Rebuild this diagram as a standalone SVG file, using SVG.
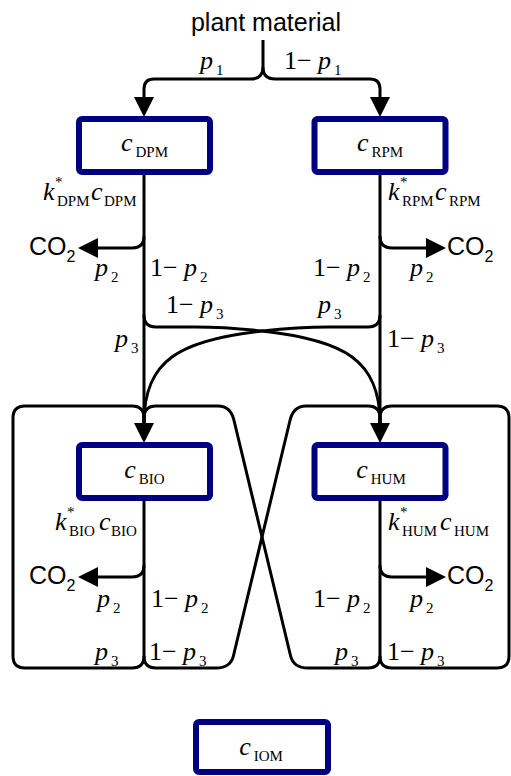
<svg xmlns="http://www.w3.org/2000/svg" width="511" height="776" viewBox="0 0 511 776">
<defs>
<style>
.ln{fill:none;stroke:#000;stroke-width:3}
.box{fill:#fff;stroke:#000080;stroke-width:6}
.sans{font-family:"Liberation Sans",Arial,sans-serif;font-size:25px;fill:#000}
.serif{font-family:"Liberation Serif","Times New Roman",serif;font-size:26px;fill:#000}
.it{font-style:italic}
.sub{font-size:15px;font-style:normal}
.sub2{font-size:16px}
</style>
<marker id="arr" markerUnits="userSpaceOnUse" markerWidth="20" markerHeight="20" refX="0" refY="10" orient="auto" viewBox="0 0 20 20">
<path d="M0,0 L20,10 L0,20 Z" fill="#000"/>
</marker>
</defs>
<rect width="511" height="776" fill="#fff"/>
<g id="connectors">
<path class="ln" d="M263,40 V67 Q263,79 251,79 H154 Q144,79 144,89 V97" marker-end="url(#arr)"/>
<path class="ln" d="M263,67 Q263,79 275,79 H370 Q380,79 380,89 V97" marker-end="url(#arr)"/>
<path class="ln" d="M144,172 V423" marker-end="url(#arr)"/>
<path class="ln" d="M144,236 Q144,248 132,248 H98" marker-end="url(#arr)"/>
<path class="ln" d="M144,315 Q144,327 156,327 H195 C215,327 235,328 262,331 C344,340 380,360 380,423"/>
<path class="ln" d="M380,172 V423" marker-end="url(#arr)"/>
<path class="ln" d="M380,236 Q380,248 392,248 H426" marker-end="url(#arr)"/>
<path class="ln" d="M380,315 Q380,327 368,327 H329 C309,327 289,328 262,331 C180,340 144,360 144,423"/>
<path class="ln" d="M144,498 V656"/>
<path class="ln" d="M144,565 Q144,577 132,577 H98" marker-end="url(#arr)"/>
<path class="ln" d="M144,656 Q144,668 132,668 H25 Q13,668 13,656 V418 Q13,406 25,406 H132 Q144,406 144,418 V423"/>
<path class="ln" d="M144,656 Q144,668 156,668 H216 Q230.5,668 233.4,656 L290.1,420 Q293.5,406 306,406 H368 Q380,406 380,418 V423"/>
<path class="ln" d="M380,498 V656"/>
<path class="ln" d="M380,565 Q380,577 392,577 H426" marker-end="url(#arr)"/>
<path class="ln" d="M380,656 Q380,668 368,668 H308 Q293.5,668 290.6,656 L233.9,420 Q230.5,406 218,406 H156 Q144,406 144,418 V423"/>
<path class="ln" d="M380,656 Q380,668 392,668 H497 Q509,668 509,656 V418 Q509,406 497,406 H392 Q380,406 380,418 V423"/>
</g>
<g id="source">
<text class="sans" x="266" y="31" text-anchor="middle">plant material</text>
</g>
<g id="node-dpm">
<rect class="box" x="79" y="119" width="131" height="53" rx="3"/>
<text class="serif" x="144.5" y="151" text-anchor="middle"><tspan class="it">c</tspan><tspan class="sub" dx="3" dy="6">DPM</tspan></text>
</g>
<g id="node-rpm">
<rect class="box" x="314.5" y="119" width="131" height="53" rx="3"/>
<text class="serif" x="380" y="151" text-anchor="middle"><tspan class="it">c</tspan><tspan class="sub" dx="3" dy="6">RPM</tspan></text>
</g>
<g id="node-bio">
<rect class="box" x="79" y="445" width="131" height="53" rx="3"/>
<text class="serif" x="144.5" y="478" text-anchor="middle"><tspan class="it">c</tspan><tspan class="sub" dx="3" dy="6">BIO</tspan></text>
</g>
<g id="node-hum">
<rect class="box" x="314.5" y="445" width="131" height="53" rx="3"/>
<text class="serif" x="381" y="478" text-anchor="middle"><tspan class="it">c</tspan><tspan class="sub" dx="3" dy="6">HUM</tspan></text>
</g>
<g id="node-iom">
<rect class="box" x="196" y="722" width="132" height="50" rx="3"/>
<text class="serif" x="261" y="755" text-anchor="middle"><tspan class="it">c</tspan><tspan class="sub" dx="3" dy="6">IOM</tspan></text>
</g>
<g id="labels">
<text class="serif" y="69"><tspan class="it" x="200">p</tspan><tspan class="sub" x="216" dy="6">1</tspan></text>
<text class="serif" y="69"><tspan x="284">1</tspan><tspan x="297">−</tspan><tspan class="it" x="318">p</tspan><tspan class="sub" x="334" dy="6">1</tspan></text>

<text class="serif" y="200"><tspan class="it" x="43">k</tspan><tspan class="sub" x="55" y="187">*</tspan><tspan class="sub" x="57" y="206">DPM</tspan><tspan class="it" x="91" y="200">c</tspan><tspan class="sub" x="104" y="206">DPM</tspan></text>
<text class="serif" y="200"><tspan class="it" x="388">k</tspan><tspan class="sub" x="400" y="187">*</tspan><tspan class="sub" x="402" y="206">RPM</tspan><tspan class="it" x="435" y="200">c</tspan><tspan class="sub" x="449" y="206">RPM</tspan></text>

<text class="sans" y="255"><tspan x="29">CO</tspan><tspan class="sub2" dy="7">2</tspan></text>
<text class="sans" y="255"><tspan x="447">CO</tspan><tspan class="sub2" dy="7">2</tspan></text>

<text class="serif" y="276"><tspan class="it" x="95">p</tspan><tspan class="sub" x="111" dy="6">2</tspan></text>
<text class="serif" y="276"><tspan x="150">1</tspan><tspan x="163">−</tspan><tspan class="it" x="184">p</tspan><tspan class="sub" x="200" dy="6">2</tspan></text>
<text class="serif" y="276"><tspan x="313">1</tspan><tspan x="326">−</tspan><tspan class="it" x="347">p</tspan><tspan class="sub" x="363" dy="6">2</tspan></text>
<text class="serif" y="276"><tspan class="it" x="410">p</tspan><tspan class="sub" x="426" dy="6">2</tspan></text>

<text class="serif" y="313"><tspan x="166">1</tspan><tspan x="179">−</tspan><tspan class="it" x="200">p</tspan><tspan class="sub" x="216" dy="6">3</tspan></text>
<text class="serif" y="313"><tspan class="it" x="318">p</tspan><tspan class="sub" x="334" dy="6">3</tspan></text>

<text class="serif" y="347"><tspan class="it" x="115">p</tspan><tspan class="sub" x="131" dy="6">3</tspan></text>
<text class="serif" y="347"><tspan x="387">1</tspan><tspan x="400">−</tspan><tspan class="it" x="421">p</tspan><tspan class="sub" x="437" dy="6">3</tspan></text>

<text class="serif" y="530"><tspan class="it" x="55">k</tspan><tspan class="sub" x="67" y="517">*</tspan><tspan class="sub" x="69" y="536">BIO</tspan><tspan class="it" x="99" y="530">c</tspan><tspan class="sub" x="111" y="536">BIO</tspan></text>
<text class="serif" y="530"><tspan class="it" x="388">k</tspan><tspan class="sub" x="400" y="517">*</tspan><tspan class="sub" x="402" y="536">HUM</tspan><tspan class="it" x="440" y="530">c</tspan><tspan class="sub" x="454" y="536">HUM</tspan></text>

<text class="sans" y="584"><tspan x="29">CO</tspan><tspan class="sub2" dy="7">2</tspan></text>
<text class="sans" y="584"><tspan x="447">CO</tspan><tspan class="sub2" dy="7">2</tspan></text>

<text class="serif" y="607"><tspan class="it" x="97">p</tspan><tspan class="sub" x="113" dy="6">2</tspan></text>
<text class="serif" y="607"><tspan x="151">1</tspan><tspan x="164">−</tspan><tspan class="it" x="185">p</tspan><tspan class="sub" x="201" dy="6">2</tspan></text>
<text class="serif" y="607"><tspan x="313">1</tspan><tspan x="326">−</tspan><tspan class="it" x="347">p</tspan><tspan class="sub" x="363" dy="6">2</tspan></text>
<text class="serif" y="607"><tspan class="it" x="410">p</tspan><tspan class="sub" x="426" dy="6">2</tspan></text>

<text class="serif" y="660"><tspan class="it" x="95">p</tspan><tspan class="sub" x="111" dy="6">3</tspan></text>
<text class="serif" y="660"><tspan x="149">1</tspan><tspan x="162">−</tspan><tspan class="it" x="183">p</tspan><tspan class="sub" x="199" dy="6">3</tspan></text>
<text class="serif" y="660"><tspan class="it" x="335">p</tspan><tspan class="sub" x="351" dy="6">3</tspan></text>
<text class="serif" y="660"><tspan x="387">1</tspan><tspan x="400">−</tspan><tspan class="it" x="421">p</tspan><tspan class="sub" x="437" dy="6">3</tspan></text>
</g>
</svg>
